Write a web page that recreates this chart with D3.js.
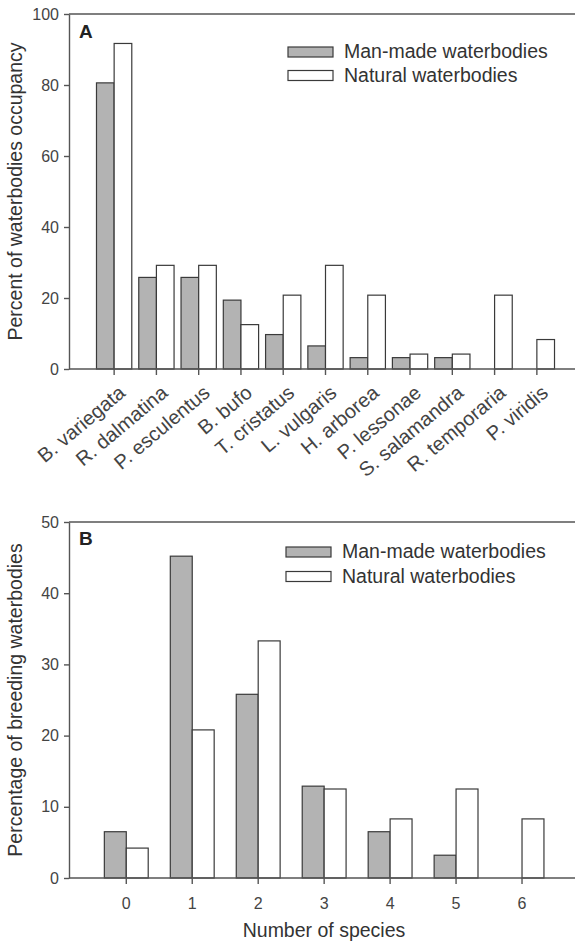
<!DOCTYPE html>
<html>
<head>
<meta charset="utf-8">
<script src="https://cdn.jsdelivr.net/npm/d3@7"></script>
<style>
  body { margin: 0; background: #fff; }
  svg { display: block; font-family: "Liberation Sans", Arial, sans-serif; }
  .axis path, .axis line { stroke: #555; stroke-width: 1.4px; }
  .axis text { fill: #444; font-size: 16px; }
</style>
</head>
<body>
<script>
// panel A: occupancy by species
var species = ['B. variegata', 'R. dalmatina', 'P. esculentus', 'B. bufo', 'T. cristatus',
  'L. vulgaris', 'H. arborea', 'P. lessonae', 'S. salamandra', 'R. temporaria', 'P. viridis'];
var occManMade = [80.6, 25.8, 25.8, 19.4, 9.7, 6.5, 3.2, 3.2, 3.2, 0, 0];
var occNatural = [91.7, 29.2, 29.2, 12.5, 20.8, 29.2, 20.8, 4.2, 4.2, 20.8, 8.3];
var occTicks = [0, 20, 40, 60, 80, 100];

// panel B: number of species per breeding waterbody
var nSpecies = ['0', '1', '2', '3', '4', '5', '6'];
var brdManMade = [6.5, 45.2, 25.8, 12.9, 6.5, 3.2, 0];
var brdNatural = [4.2, 20.8, 33.3, 12.5, 8.3, 12.5, 8.3];
var brdTicks = [0, 10, 20, 30, 40, 50];

var seriesNames = ['Man-made waterbodies', 'Natural waterbodies'];
var seriesFill = ['#b3b3b3', '#ffffff'];

var W = 575, H = 946;
var svg = d3.select('body').append('svg').attr('width', W).attr('height', H);

// draws one panel: frame, axes, grouped bars, legend, letter
function panel(opt) {
  var g = svg.append('g');
  var y = d3.scaleLinear().domain([0, opt.ymax]).range([opt.bottom, opt.top]);
  var x = d3.scaleBand().domain(opt.cats).range(opt.xrange)
    .paddingInner(opt.padIn).paddingOuter(opt.padOut);
  var sub = d3.scaleBand().domain([0, 1]).range([0, x.bandwidth()]);

  // top frame line
  g.append('line')
    .attr('x1', opt.left).attr('x2', W)
    .attr('y1', opt.top).attr('y2', opt.top)
    .attr('stroke', '#555').attr('stroke-width', 1.4);

  // bars, zero values are not drawn
  var barG = g.append('g');
  [opt.a, opt.b].forEach((vals, s) => {
    barG.selectAll('rect.s' + s)
      .data(vals.map((v, i) => ({ v: v, c: opt.cats[i] })).filter(d => d.v > 0))
      .enter()
      .append('rect')
      .attr('class', 's' + s)
      .attr('x', d => x(d.c) + sub(s))
      .attr('width', sub.bandwidth())
      .attr('y', d => y(d.v))
      .attr('height', d => y(0) - y(d.v))
      .attr('fill', seriesFill[s])
      .attr('stroke', '#3a3a3a')
      .attr('stroke-width', 1.2);
  });

  // y axis
  g.append('g').attr('class', 'axis')
    .attr('transform', 'translate(' + opt.left + ',0)')
    .call(d3.axisLeft(y).tickValues(opt.ticks).tickSize(5).tickPadding(5).tickSizeOuter(0));

  // x axis
  var xa = g.append('g').attr('class', 'axis')
    .attr('transform', 'translate(0,' + opt.bottom + ')')
    .call(d3.axisBottom(x).tickSize(6).tickSizeOuter(0));
  xa.select('.domain').attr('d', 'M' + opt.left + ',0H' + W);

  if (opt.rotate) {
    xa.selectAll('text')
      .attr('text-anchor', 'end')
      .style('font-size', '20px')
      .attr('y', 0).attr('dy', '0.35em')
      .attr('transform', 'translate(8,20.5) rotate(-40)');
  } else {
    xa.selectAll('text').attr('dy', '1.35em');
  }

  // y label
  g.append('text')
    .attr('transform', 'translate(' + opt.ylabX + ',' + (opt.top + opt.bottom) / 2 + ') rotate(-90)')
    .attr('text-anchor', 'middle')
    .attr('font-size', 19.5)
    .attr('fill', '#333')
    .text(opt.ylabel);

  // panel letter
  g.append('text')
    .attr('x', opt.left + 10).attr('y', opt.top + opt.letterDy)
    .attr('font-size', 19).attr('font-weight', 'bold').attr('fill', '#222')
    .text(opt.letter);

  // legend
  var lg = g.append('g').attr('transform', 'translate(' + opt.legX + ',' + opt.legY + ')');
  seriesNames.forEach((name, i) => {
    lg.append('rect')
      .attr('x', 0).attr('y', i * opt.legStep)
      .attr('width', 45).attr('height', 10)
      .attr('fill', seriesFill[i]).attr('stroke', '#3a3a3a').attr('stroke-width', 1.2);
    lg.append('text')
      .attr('x', 56).attr('y', i * opt.legStep + 11)
      .attr('font-size', 19.5).attr('fill', '#333')
      .text(name);
  });

  return g;
}

panel({
  cats: species, a: occManMade, b: occNatural, ticks: occTicks, ymax: 100,
  top: 14, bottom: 369, left: 69, xrange: [93, 558], padIn: 0.165, padOut: 0.0825,
  rotate: true, ylabel: 'Percent of waterbodies occupancy', ylabX: 22, letter: 'A', letterDy: 24,
  legX: 288, legY: 47, legStep: 23.5
});

panel({
  cats: nSpecies, a: brdManMade, b: brdNatural, ticks: brdTicks, ymax: 50,
  top: 522, bottom: 878, left: 69, xrange: [93.3, 555], padIn: 0.335, padOut: 0.1675,
  rotate: false, ylabel: 'Percentage of breeding waterbodies', ylabX: 22, letter: 'B', letterDy: 23,
  legX: 286, legY: 547, legStep: 24.5
});

svg.append('text')
  .attr('x', 324).attr('y', 937)
  .attr('text-anchor', 'middle')
  .attr('font-size', 19.5).attr('fill', '#333')
  .text('Number of species');
</script>
</body>
</html>
